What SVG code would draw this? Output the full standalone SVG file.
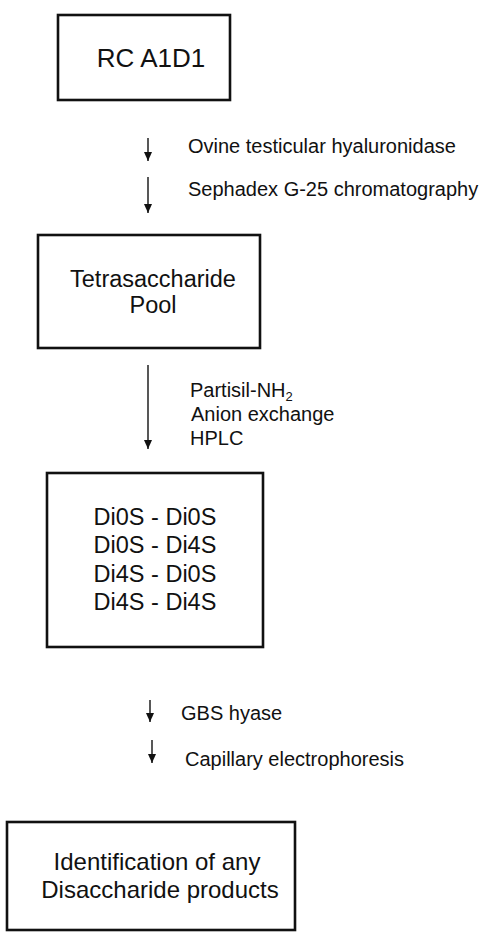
<svg xmlns="http://www.w3.org/2000/svg" width="482" height="933" viewBox="0 0 482 933">
<style>
.box{fill:none;stroke:#111;stroke-width:2.6}
.bt{font-family:"Liberation Sans",Arial,sans-serif;fill:#111;text-anchor:middle}
.st{font-family:"Liberation Sans",Arial,sans-serif;fill:#111;font-size:20px}
.arr{stroke:#111;stroke-width:1.4;fill:none}
</style>
<defs>
<marker id="ah" viewBox="0 0 9 8" refX="9" refY="4" markerWidth="9" markerHeight="8" markerUnits="userSpaceOnUse" orient="auto">
<path d="M0,0 L9,4 L0,8 Z" fill="#111"/>
</marker>
</defs>
<rect width="482" height="933" fill="#fff"/>
<g id="n1">
<rect class="box" x="58" y="15" width="172" height="85"/>
<text class="bt" x="151" y="67" font-size="26">RC A1D1</text>
</g>
<g id="n2">
<rect class="box" x="38" y="235" width="222" height="113"/>
<text class="bt" x="153" y="287" font-size="23.5">Tetrasaccharide</text>
<text class="bt" x="153" y="313" font-size="23.5">Pool</text>
</g>
<g id="n3">
<rect class="box" x="47" y="473" width="216" height="174"/>
<text class="bt" x="155" y="525" font-size="23.5">Di0S - Di0S</text>
<text class="bt" x="155" y="553" font-size="23.5">Di0S - Di4S</text>
<text class="bt" x="155" y="582" font-size="23.5">Di4S - Di0S</text>
<text class="bt" x="155" y="610" font-size="23.5">Di4S - Di4S</text>
</g>
<g id="n4">
<rect class="box" x="7" y="822" width="288" height="108"/>
<text class="bt" x="157" y="870" font-size="24">Identification of any</text>
<text class="bt" x="160" y="898" font-size="24">Disaccharide products</text>
</g>
<g id="connectors">
<path class="arr" d="M148,138 V161" marker-end="url(#ah)"/>
<path class="arr" d="M148,177 V213" marker-end="url(#ah)"/>
<path class="arr" d="M148,365 V449" marker-end="url(#ah)"/>
<path class="arr" d="M150,700 V722" marker-end="url(#ah)"/>
<path class="arr" d="M152,740 V763" marker-end="url(#ah)"/>
</g>
<g id="labels">
<text class="st" x="188" y="153">Ovine testicular hyaluronidase</text>
<text class="st" x="188" y="196">Sephadex G-25 chromatography</text>
<text class="st" x="190" y="397">Partisil-NH<tspan font-size="13" dy="4">2</tspan></text>
<text class="st" x="191" y="421">Anion exchange</text>
<text class="st" x="190" y="445">HPLC</text>
<text class="st" x="181" y="720">GBS hyase</text>
<text class="st" x="185" y="766">Capillary electrophoresis</text>
</g>
</svg>
